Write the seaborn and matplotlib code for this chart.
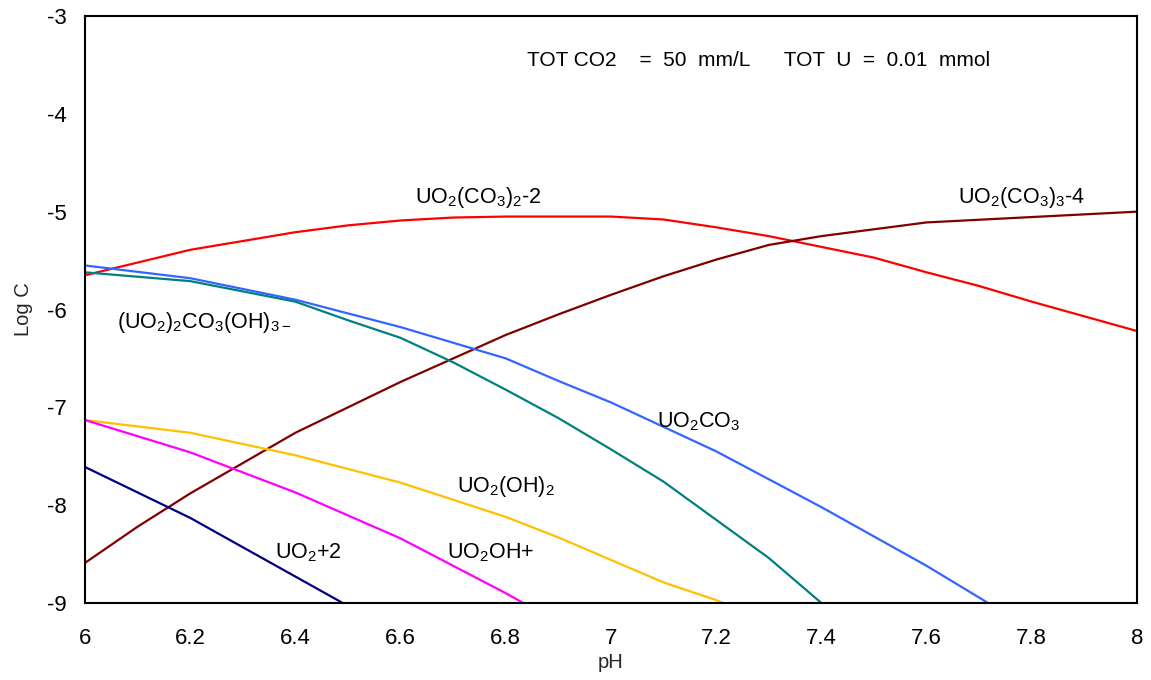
import matplotlib
matplotlib.use("Agg")
import matplotlib.pyplot as plt
import seaborn as sns
import pandas as pd

# ---- data ----
ph_co3_2 = [6.0, 6.1, 6.2, 6.4, 6.5, 6.6, 6.7, 6.8, 7.0, 7.1, 7.2, 7.3, 7.4, 7.5, 7.6, 7.7, 7.8, 8.0]
logc_co3_2 = [-5.65, -5.52, -5.39, -5.21, -5.14, -5.09, -5.06, -5.05, -5.05, -5.08, -5.16, -5.25, -5.36, -5.47, -5.62, -5.76, -5.92, -6.22]

ph_co3_3 = [6.0, 6.1, 6.2, 6.4, 6.6, 6.8, 6.9, 7.0, 7.1, 7.2, 7.3, 7.4, 7.6, 8.0]
logc_co3_3 = [-8.59, -8.22, -7.88, -7.26, -6.74, -6.26, -6.05, -5.85, -5.66, -5.49, -5.34, -5.25, -5.11, -5.00]

ph_uo2co3 = [6.0, 6.2, 6.4, 6.6, 6.8, 6.9, 7.0, 7.1, 7.2, 7.4, 7.6, 7.8]
logc_uo2co3 = [-5.55, -5.68, -5.90, -6.18, -6.50, -6.73, -6.95, -7.20, -7.45, -8.02, -8.62, -9.27]

ph_dimer = [6.0, 6.2, 6.4, 6.5, 6.6, 6.7, 6.8, 6.9, 7.0, 7.1, 7.2, 7.3, 7.4]
logc_dimer = [-5.62, -5.71, -5.92, -6.11, -6.29, -6.54, -6.82, -7.11, -7.43, -7.76, -8.15, -8.54, -9.00]

ph_oh2 = [6.0, 6.2, 6.4, 6.6, 6.8, 6.9, 7.0, 7.1, 7.2, 7.3]
logc_oh2 = [-7.13, -7.26, -7.49, -7.77, -8.12, -8.33, -8.56, -8.79, -8.97, -9.20]

ph_ohp = [6.0, 6.2, 6.4, 6.6, 6.8, 6.9]
logc_ohp = [-7.13, -7.46, -7.87, -8.34, -8.90, -9.20]

ph_uo2 = [6.0, 6.1, 6.2, 6.4, 6.5]
logc_uo2 = [-7.61, -7.87, -8.13, -8.73, -9.03]

series_names = ["UO2(CO3)2-2", "UO2(CO3)3-4", "UO2CO3", "(UO2)2CO3(OH)3-", "UO2(OH)2", "UO2OH+", "UO2+2"]
series_colors = ["#FF0000", "#800000", "#3366FF", "#008080", "#FFC000", "#FF00FF", "#000080"]

x_ticks = [6, 6.2, 6.4, 6.6, 6.8, 7, 7.2, 7.4, 7.6, 7.8, 8]
x_tick_labels = ["6", "6.2", "6.4", "6.6", "6.8", "7", "7.2", "7.4", "7.6", "7.8", "8"]
y_ticks = [-9, -8, -7, -6, -5, -4, -3]
y_tick_labels = ["-9", "-8", "-7", "-6", "-5", "-4", "-3"]

label_texts = ["UO$_2$(CO$_3$)$_2$-2", "UO$_2$(CO$_3$)$_3$-4", "UO$_2$CO$_3$",
               "(UO$_2$)$_2$CO$_3$(OH)$_{3-}$", "UO$_2$(OH)$_2$", "UO$_2$OH+", "UO$_2$+2"]
label_x = [6.627, 7.66, 7.087, 6.06, 6.707, 6.688, 6.361]
label_y = [-4.86, -4.86, -7.15, -6.13, -7.81, -8.49, -8.49]
header_text = "TOT CO2    =  50  mm/L      TOT  U  =  0.01  mmol"

# ---- build long table ----
xs = [ph_co3_2, ph_co3_3, ph_uo2co3, ph_dimer, ph_oh2, ph_ohp, ph_uo2]
ys = [logc_co3_2, logc_co3_3, logc_uo2co3, logc_dimer, logc_oh2, logc_ohp, logc_uo2]
frames = []
for n, x, y in zip(series_names, xs, ys):
    frames.append(pd.DataFrame({"pH": x, "logC": y, "species": n}))
df = pd.concat(frames, ignore_index=True)

sns.set_theme(style="white")
plt.rcParams["font.family"] = ["Liberation Sans", "DejaVu Sans"]
plt.rcParams["mathtext.default"] = "regular"
plt.rcParams["axes.unicode_minus"] = False

fig = plt.figure(figsize=(11.51, 6.80), dpi=100)
ax = fig.add_axes([85/1151, 1 - 603/680, (1137-85)/1151, (603-16)/680])

sns.lineplot(data=df, x="pH", y="logC", hue="species", hue_order=series_names,
             palette=dict(zip(series_names, series_colors)), sort=False,
             estimator=None, linewidth=1.6, legend=False, ax=ax)

ax.set_xlim(6, 8)
ax.set_ylim(-9, -3)
ax.set_xticks(x_ticks)
ax.set_xticklabels(x_tick_labels)
ax.set_yticks(y_ticks)
ax.set_yticklabels(y_tick_labels)
ax.tick_params(direction="in", length=6, width=1, colors="black", labelsize=16)
ax.tick_params(axis="x", pad=18)
ax.tick_params(axis="y", pad=13)
for s in ax.spines.values():
    s.set_color("black")
    s.set_linewidth(1.5)
ax.set_xlabel("pH", fontsize=14.5, labelpad=3)
ax.set_ylabel("Log C", fontsize=14.5, labelpad=10)

for t, lx, ly in zip(label_texts, label_x, label_y):
    ax.text(lx, ly, t, fontsize=15.5, ha="left", va="center", color="black")
ax.text(6.84, -3.45, header_text, fontsize=15, ha="left", va="center", color="black")

fig.savefig("out.png", dpi=100)
